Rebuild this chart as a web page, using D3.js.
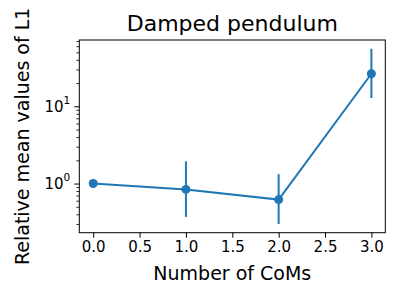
<!DOCTYPE html>
<html>
<head>
<meta charset="utf-8">
<script src="https://cdn.jsdelivr.net/npm/d3@7"></script>
<style>
  body { margin: 0; background: #fff; }
  svg { font-family: "DejaVu Sans", sans-serif; }
</style>
</head>
<body>
<svg id="chart" width="400" height="300"></svg>
<script>
// data
const coms = [0, 1, 2, 3];
const meanL1 = [1.0, 0.84, 0.62, 26.4];
const errLow = [1.0, 0.37, 0.30, 12.8];
const errHigh = [1.0, 1.94, 1.32, 55.6];
const xTicks = [0, 0.5, 1, 1.5, 2, 2.5, 3];
const yTicks = [1, 10];

const svg = d3.select("#chart");
const W = 400, H = 300;
const margin = {top: 40, right: 14.7, bottom: 67.3, left: 79.3};
const color = "#1f77b4";

// matplotlib style 5% margins
const xExt = d3.extent(coms);
const xPad = (xExt[1] - xExt[0]) * 0.05;
const x = d3.scaleLinear()
  .domain([xExt[0] - xPad, xExt[1] + xPad])
  .range([margin.left, W - margin.right]);

const lo = Math.log10(d3.min(errLow)), hi = Math.log10(d3.max(errHigh));
const yPad = (hi - lo) * 0.05;
const y = d3.scaleLog()
  .domain([Math.pow(10, lo - yPad), Math.pow(10, hi + yPad)])
  .range([H - margin.bottom, margin.top]);

// minor ticks
const minor = [];
for (let e = -1; e <= 1; e++) {
  for (let m = 2; m <= 9; m++) {
    const v = m * Math.pow(10, e);
    if (v >= y.domain()[0] && v <= y.domain()[1]) minor.push(v);
  }
}

const gx = svg.append("g")
  .attr("transform", `translate(0,${H - margin.bottom})`)
  .call(d3.axisBottom(x).tickValues(xTicks).tickFormat(d3.format(".1f")).tickSize(5).tickPadding(4));
gx.select(".domain").remove();
gx.selectAll("text").attr("font-size", 15).attr("font-family", "DejaVu Sans").attr("fill", "#000");
gx.selectAll("line").attr("stroke", "#000").attr("stroke-width", 1);

const gyMinor = svg.append("g")
  .attr("transform", `translate(${margin.left},0)`)
  .call(d3.axisLeft(y).tickValues(minor).tickSize(3).tickFormat(""));
gyMinor.select(".domain").remove();
gyMinor.selectAll("line").attr("stroke", "#000").attr("stroke-width", 0.8);

const gy = svg.append("g")
  .attr("transform", `translate(${margin.left},0)`)
  .call(d3.axisLeft(y).tickValues(yTicks).tickSize(5).tickFormat(""));
gy.select(".domain").remove();
gy.selectAll("line").attr("stroke", "#000").attr("stroke-width", 1);
gy.selectAll(".tick").append("text")
  .attr("x", -9)
  .attr("dy", "0.32em")
  .attr("text-anchor", "end")
  .attr("fill", "#000")
  .attr("font-family", "DejaVu Sans")
  .attr("font-size", 15)
  .call(t => {
    t.append("tspan").text("10");
    t.append("tspan").attr("font-size", 10.5).attr("dy", "-0.75em")
      .text(d => Math.round(Math.log10(d)));
  });

// frame
svg.append("rect")
  .attr("x", margin.left).attr("y", margin.top)
  .attr("width", W - margin.left - margin.right)
  .attr("height", H - margin.top - margin.bottom)
  .attr("fill", "none").attr("stroke", "#000").attr("stroke-width", 1);

// error bars
svg.append("g").selectAll("line")
  .data(coms)
  .join("line")
  .attr("x1", (d) => x(d)).attr("x2", (d) => x(d))
  .attr("y1", (d, i) => y(errLow[i])).attr("y2", (d, i) => y(errHigh[i]))
  .attr("stroke", color).attr("stroke-width", 2);

// line
svg.append("path")
  .datum(coms)
  .attr("fill", "none")
  .attr("stroke", color)
  .attr("stroke-width", 2)
  .attr("d", d3.line().x(d => x(d)).y((d, i) => y(meanL1[i])));

svg.append("g").selectAll("circle")
  .data(coms)
  .join("circle")
  .attr("cx", d => x(d))
  .attr("cy", (d, i) => y(meanL1[i]))
  .attr("r", 4.5)
  .attr("fill", color);

// labels
svg.append("text")
  .attr("x", (margin.left + W - margin.right) / 2).attr("y", 31)
  .attr("text-anchor", "middle").attr("font-size", 22)
  .text("Damped pendulum");

svg.append("text")
  .attr("x", (margin.left + W - margin.right) / 2).attr("y", 280)
  .attr("text-anchor", "middle").attr("font-size", 19)
  .text("Number of CoMs");

svg.append("text")
  .attr("transform", `translate(29,${(margin.top + H - margin.bottom) / 2}) rotate(-90)`)
  .attr("text-anchor", "middle").attr("font-size", 19)
  .text("Relative mean values of L1");
</script>
</body>
</html>
